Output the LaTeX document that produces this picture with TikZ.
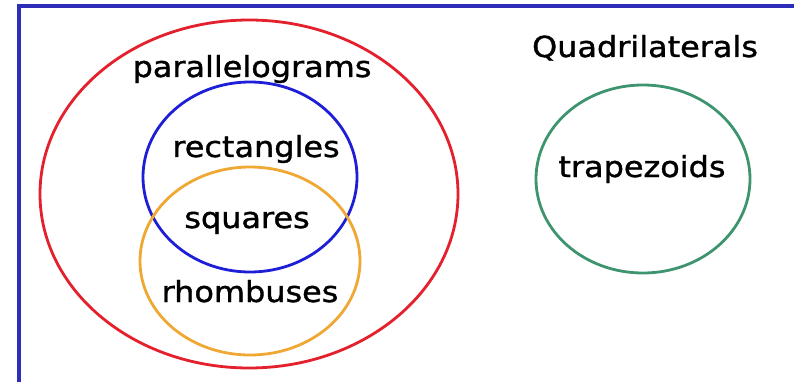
\documentclass[tikz,border=0pt]{standalone}
\usepackage{fontspec}
\setmainfont{DejaVu Sans}[FakeStretch=1.1, FakeBold=1.2]
\usepackage{tikz}
\usetikzlibrary{shapes.geometric, positioning}
\definecolor{setred}{RGB}{228,32,44}
\definecolor{setblue}{RGB}{30,30,215}
\definecolor{setorange}{RGB}{240,168,52}
\definecolor{setgreen}{RGB}{62,148,110}
\definecolor{frameblue}{RGB}{45,45,185}

\begin{document}
\begin{tikzpicture}[
    x=1pt, y=-1pt,
    every node/.style={font=\fontsize{29}{34}\selectfont},
    venn/.style={ellipse, draw=#1, line width=2.8pt, inner sep=0pt},
    setlabel/.style={anchor=base, inner sep=0pt, text=black}
]
\useasboundingbox (0,0) rectangle (794,382);

% frame
\draw[frameblue, line width=3.5pt] (19,382) -- (19,6) -- (794,6);

% sets
\node[venn=setred, minimum width=418pt, minimum height=348pt] (para) at (249,194) {};
\node[venn=setblue, minimum width=214pt, minimum height=190pt] (rect) at (250,177) {};
\node[venn=setorange, minimum width=220pt, minimum height=188pt] (rhomb) at (250,261) {};
\node[venn=setgreen, minimum width=214pt, minimum height=188pt] (trap) at (643,179) {};

% labels
\node[setlabel] (paralabel) at (252,77) {parallelograms};
\node[setlabel] (rectlabel) at (256,157) {rectangles};
\node[setlabel] (sqlabel) at (247,228) {squares};
\node[setlabel] (rhomblabel) at (250,302) {rhombuses};
\node[setlabel] (traplabel) at (642,177) {trapezoids};
\node[setlabel] (title) at (645,57) {Quadrilaterals};

\end{tikzpicture}
\end{document}
